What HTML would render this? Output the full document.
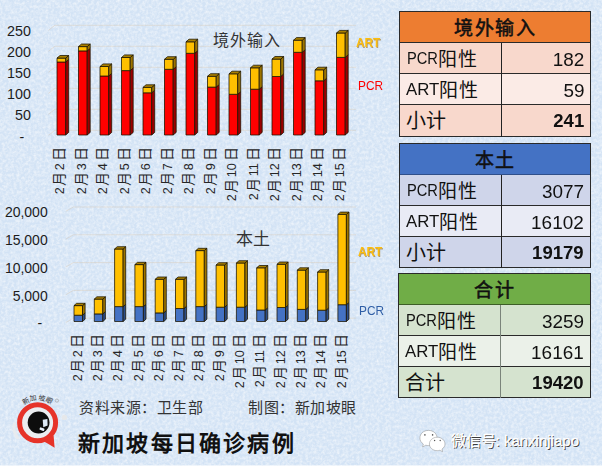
<!DOCTYPE html>
<html lang="zh-CN"><head><meta charset="utf-8">
<style>
html,body{margin:0;padding:0;}
body{width:602px;height:469px;position:relative;overflow:hidden;background:#d3e3f5;font-family:"Liberation Sans",sans-serif;color:#000;}
.abs{position:absolute;}
svg.chart{position:absolute;left:0;top:0;}
.yl{position:absolute;line-height:16px;color:#1c1c1c;white-space:nowrap;}
.xl{position:absolute;width:0;height:0;}
.xl span{position:absolute;right:0;top:0;transform-origin:100% 50%;transform:translate(0,-50%) rotate(-90deg);white-space:nowrap;font-size:14px;line-height:15px;color:#262626;}
.xl b{font-weight:normal;font-size:12.6px;}
.xl b.d1{padding-right:1.1px;}
.xl b.d2{padding-right:2.2px;}
.xl i{font-style:normal;padding-right:1.9px;}
.ttl{position:absolute;font-size:16px;line-height:18px;color:#333;white-space:nowrap;}
.leg{position:absolute;font-size:13px;line-height:14px;white-space:nowrap;transform:scaleX(0.91);transform-origin:0 50%;}

.tb{position:absolute;box-sizing:border-box;border:1px solid #2a2a2a;}
.th{position:absolute;text-align:center;font-size:19px;color:#111;}
.th span{position:relative;top:2px;left:-0.3px;letter-spacing:1.6px;margin-right:-1.6px;-webkit-text-stroke:0.55px #111;}
.hl{position:absolute;left:0;right:0;height:1px;}
.vl{position:absolute;width:1px;}
.tr{position:absolute;left:0;right:0;}
.lab{position:absolute;left:7px;white-space:nowrap;color:#111;}
.lt{font-size:16.3px;display:inline-block;transform:scaleX(0.9);transform-origin:0 50%;margin-right:-3.2px;position:relative;top:0.3px;}
.cj{font-size:19px;position:relative;top:2px;letter-spacing:1px;}
.lt.a{transform:scaleX(1.03);margin-right:-0.6px;left:-1px;}
.cj2{font-size:20px;position:relative;top:1px;left:-1px;}
.val{position:absolute;right:6px;font-size:17.5px;color:#111;}
.val span{display:inline-block;transform:scaleX(1.08);transform-origin:100% 50%;position:relative;top:1.5px;}
.val.b{font-weight:bold;}
.val.b span{top:1px;transform:scaleX(1.06);}

.art{color:#fbbd10;font-weight:bold;text-shadow:0.8px 0.8px 0.6px rgba(140,90,0,0.55);}

.ft{font-size:15px;line-height:20px;color:#333;white-space:nowrap;letter-spacing:0.55px;}
.wm{font-size:15px;line-height:18px;color:#fff;white-space:nowrap;text-shadow:1px 1px 0 #3a3a3a;-webkit-text-stroke:0.3px #fff;}

</style></head><body>
<svg class="abs" width="602" height="469" style="left:0;top:0">
<filter id="nz" x="0" y="0" width="100%" height="100%">
<feTurbulence type="fractalNoise" baseFrequency="0.35" numOctaves="3" seed="7" result="t"/>
<feColorMatrix type="matrix" values="0 0 0 0 1  0 0 0 0 1  0 0 0 0 1  0 0 0 1.5 -0.5"/>
</filter>
<rect width="602" height="469" filter="url(#nz)" opacity="0.7"/>
</svg>
<svg class="chart" width="602" height="469" viewBox="0 0 602 469">
<polyline points="48.4,30.4 54.8,25.3 356,25.3" stroke="#d9c6ad" stroke-width="0.9" fill="none" opacity="0.45"/>
<polyline points="48.4,51.4 54.8,46.3 356,46.3" stroke="#d9c6ad" stroke-width="0.9" fill="none" opacity="0.45"/>
<polyline points="48.4,72.4 54.8,67.3 356,67.3" stroke="#d9c6ad" stroke-width="0.9" fill="none" opacity="0.45"/>
<polyline points="48.4,93.4 54.8,88.3 356,88.3" stroke="#d9c6ad" stroke-width="0.9" fill="none" opacity="0.45"/>
<polyline points="48.4,114.4 54.8,109.3 356,109.3" stroke="#d9c6ad" stroke-width="0.9" fill="none" opacity="0.45"/>
<polyline points="48.4,135.4 54.8,130.3 356,130.3" stroke="#d9c6ad" stroke-width="0.9" fill="none" opacity="0.45"/>
<polyline points="65.8,211.3 73.4,207.0 356,207.0" stroke="#d9c6ad" stroke-width="0.9" fill="none" opacity="0.45"/>
<polyline points="65.8,239.1 73.4,234.8 356,234.8" stroke="#d9c6ad" stroke-width="0.9" fill="none" opacity="0.45"/>
<polyline points="65.8,266.9 73.4,262.6 356,262.6" stroke="#d9c6ad" stroke-width="0.9" fill="none" opacity="0.45"/>
<polyline points="65.8,294.7 73.4,290.4 356,290.4" stroke="#d9c6ad" stroke-width="0.9" fill="none" opacity="0.45"/>
<polyline points="65.8,322.5 73.4,318.2 356,318.2" stroke="#d9c6ad" stroke-width="0.9" fill="none" opacity="0.45"/>
<rect x="57.00" y="62.00" width="8.70" height="73.00" fill="#ff0000" stroke="#1a1400" stroke-width="0.85" stroke-opacity="0.9" stroke-linejoin="round"/>
<polygon points="65.70,62.00 68.70,59.40 68.70,132.40 65.70,135.00" fill="#9a0000" stroke="#1a1400" stroke-width="0.85" stroke-opacity="0.9" stroke-linejoin="round"/>
<rect x="57.00" y="58.10" width="8.70" height="3.90" fill="#ffc000" stroke="#1a1400" stroke-width="0.85" stroke-opacity="0.9" stroke-linejoin="round"/>
<polygon points="65.70,58.10 68.70,55.50 68.70,59.40 65.70,62.00" fill="#9c7400" stroke="#1a1400" stroke-width="0.85" stroke-opacity="0.9" stroke-linejoin="round"/>
<polygon points="57.00,58.10 60.00,55.50 68.70,55.50 65.70,58.10" fill="#aa8000" stroke="#1a1400" stroke-width="0.85" stroke-opacity="0.9" stroke-linejoin="round"/>
<rect x="78.50" y="50.90" width="8.70" height="84.10" fill="#ff0000" stroke="#1a1400" stroke-width="0.85" stroke-opacity="0.9" stroke-linejoin="round"/>
<polygon points="87.20,50.90 90.20,48.30 90.20,132.40 87.20,135.00" fill="#9a0000" stroke="#1a1400" stroke-width="0.85" stroke-opacity="0.9" stroke-linejoin="round"/>
<rect x="78.50" y="46.60" width="8.70" height="4.30" fill="#ffc000" stroke="#1a1400" stroke-width="0.85" stroke-opacity="0.9" stroke-linejoin="round"/>
<polygon points="87.20,46.60 90.20,44.00 90.20,48.30 87.20,50.90" fill="#9c7400" stroke="#1a1400" stroke-width="0.85" stroke-opacity="0.9" stroke-linejoin="round"/>
<polygon points="78.50,46.60 81.50,44.00 90.20,44.00 87.20,46.60" fill="#aa8000" stroke="#1a1400" stroke-width="0.85" stroke-opacity="0.9" stroke-linejoin="round"/>
<rect x="100.00" y="76.00" width="8.70" height="59.00" fill="#ff0000" stroke="#1a1400" stroke-width="0.85" stroke-opacity="0.9" stroke-linejoin="round"/>
<polygon points="108.70,76.00 111.70,73.40 111.70,132.40 108.70,135.00" fill="#9a0000" stroke="#1a1400" stroke-width="0.85" stroke-opacity="0.9" stroke-linejoin="round"/>
<rect x="100.00" y="66.50" width="8.70" height="9.50" fill="#ffc000" stroke="#1a1400" stroke-width="0.85" stroke-opacity="0.9" stroke-linejoin="round"/>
<polygon points="108.70,66.50 111.70,63.90 111.70,73.40 108.70,76.00" fill="#9c7400" stroke="#1a1400" stroke-width="0.85" stroke-opacity="0.9" stroke-linejoin="round"/>
<polygon points="100.00,66.50 103.00,63.90 111.70,63.90 108.70,66.50" fill="#aa8000" stroke="#1a1400" stroke-width="0.85" stroke-opacity="0.9" stroke-linejoin="round"/>
<rect x="121.50" y="70.60" width="8.70" height="64.40" fill="#ff0000" stroke="#1a1400" stroke-width="0.85" stroke-opacity="0.9" stroke-linejoin="round"/>
<polygon points="130.20,70.60 133.20,68.00 133.20,132.40 130.20,135.00" fill="#9a0000" stroke="#1a1400" stroke-width="0.85" stroke-opacity="0.9" stroke-linejoin="round"/>
<rect x="121.50" y="57.50" width="8.70" height="13.10" fill="#ffc000" stroke="#1a1400" stroke-width="0.85" stroke-opacity="0.9" stroke-linejoin="round"/>
<polygon points="130.20,57.50 133.20,54.90 133.20,68.00 130.20,70.60" fill="#9c7400" stroke="#1a1400" stroke-width="0.85" stroke-opacity="0.9" stroke-linejoin="round"/>
<polygon points="121.50,57.50 124.50,54.90 133.20,54.90 130.20,57.50" fill="#aa8000" stroke="#1a1400" stroke-width="0.85" stroke-opacity="0.9" stroke-linejoin="round"/>
<rect x="143.00" y="92.80" width="8.70" height="42.20" fill="#ff0000" stroke="#1a1400" stroke-width="0.85" stroke-opacity="0.9" stroke-linejoin="round"/>
<polygon points="151.70,92.80 154.70,90.20 154.70,132.40 151.70,135.00" fill="#9a0000" stroke="#1a1400" stroke-width="0.85" stroke-opacity="0.9" stroke-linejoin="round"/>
<rect x="143.00" y="87.40" width="8.70" height="5.40" fill="#ffc000" stroke="#1a1400" stroke-width="0.85" stroke-opacity="0.9" stroke-linejoin="round"/>
<polygon points="151.70,87.40 154.70,84.80 154.70,90.20 151.70,92.80" fill="#9c7400" stroke="#1a1400" stroke-width="0.85" stroke-opacity="0.9" stroke-linejoin="round"/>
<polygon points="143.00,87.40 146.00,84.80 154.70,84.80 151.70,87.40" fill="#aa8000" stroke="#1a1400" stroke-width="0.85" stroke-opacity="0.9" stroke-linejoin="round"/>
<rect x="164.50" y="69.30" width="8.70" height="65.70" fill="#ff0000" stroke="#1a1400" stroke-width="0.85" stroke-opacity="0.9" stroke-linejoin="round"/>
<polygon points="173.20,69.30 176.20,66.70 176.20,132.40 173.20,135.00" fill="#9a0000" stroke="#1a1400" stroke-width="0.85" stroke-opacity="0.9" stroke-linejoin="round"/>
<rect x="164.50" y="59.30" width="8.70" height="10.00" fill="#ffc000" stroke="#1a1400" stroke-width="0.85" stroke-opacity="0.9" stroke-linejoin="round"/>
<polygon points="173.20,59.30 176.20,56.70 176.20,66.70 173.20,69.30" fill="#9c7400" stroke="#1a1400" stroke-width="0.85" stroke-opacity="0.9" stroke-linejoin="round"/>
<polygon points="164.50,59.30 167.50,56.70 176.20,56.70 173.20,59.30" fill="#aa8000" stroke="#1a1400" stroke-width="0.85" stroke-opacity="0.9" stroke-linejoin="round"/>
<rect x="186.00" y="53.30" width="8.70" height="81.70" fill="#ff0000" stroke="#1a1400" stroke-width="0.85" stroke-opacity="0.9" stroke-linejoin="round"/>
<polygon points="194.70,53.30 197.70,50.70 197.70,132.40 194.70,135.00" fill="#9a0000" stroke="#1a1400" stroke-width="0.85" stroke-opacity="0.9" stroke-linejoin="round"/>
<rect x="186.00" y="41.80" width="8.70" height="11.50" fill="#ffc000" stroke="#1a1400" stroke-width="0.85" stroke-opacity="0.9" stroke-linejoin="round"/>
<polygon points="194.70,41.80 197.70,39.20 197.70,50.70 194.70,53.30" fill="#9c7400" stroke="#1a1400" stroke-width="0.85" stroke-opacity="0.9" stroke-linejoin="round"/>
<polygon points="186.00,41.80 189.00,39.20 197.70,39.20 194.70,41.80" fill="#aa8000" stroke="#1a1400" stroke-width="0.85" stroke-opacity="0.9" stroke-linejoin="round"/>
<rect x="207.50" y="87.10" width="8.70" height="47.90" fill="#ff0000" stroke="#1a1400" stroke-width="0.85" stroke-opacity="0.9" stroke-linejoin="round"/>
<polygon points="216.20,87.10 219.20,84.50 219.20,132.40 216.20,135.00" fill="#9a0000" stroke="#1a1400" stroke-width="0.85" stroke-opacity="0.9" stroke-linejoin="round"/>
<rect x="207.50" y="76.30" width="8.70" height="10.80" fill="#ffc000" stroke="#1a1400" stroke-width="0.85" stroke-opacity="0.9" stroke-linejoin="round"/>
<polygon points="216.20,76.30 219.20,73.70 219.20,84.50 216.20,87.10" fill="#9c7400" stroke="#1a1400" stroke-width="0.85" stroke-opacity="0.9" stroke-linejoin="round"/>
<polygon points="207.50,76.30 210.50,73.70 219.20,73.70 216.20,76.30" fill="#aa8000" stroke="#1a1400" stroke-width="0.85" stroke-opacity="0.9" stroke-linejoin="round"/>
<rect x="229.00" y="94.30" width="8.70" height="40.70" fill="#ff0000" stroke="#1a1400" stroke-width="0.85" stroke-opacity="0.9" stroke-linejoin="round"/>
<polygon points="237.70,94.30 240.70,91.70 240.70,132.40 237.70,135.00" fill="#9a0000" stroke="#1a1400" stroke-width="0.85" stroke-opacity="0.9" stroke-linejoin="round"/>
<rect x="229.00" y="73.80" width="8.70" height="20.50" fill="#ffc000" stroke="#1a1400" stroke-width="0.85" stroke-opacity="0.9" stroke-linejoin="round"/>
<polygon points="237.70,73.80 240.70,71.20 240.70,91.70 237.70,94.30" fill="#9c7400" stroke="#1a1400" stroke-width="0.85" stroke-opacity="0.9" stroke-linejoin="round"/>
<polygon points="229.00,73.80 232.00,71.20 240.70,71.20 237.70,73.80" fill="#aa8000" stroke="#1a1400" stroke-width="0.85" stroke-opacity="0.9" stroke-linejoin="round"/>
<rect x="250.50" y="89.20" width="8.70" height="45.80" fill="#ff0000" stroke="#1a1400" stroke-width="0.85" stroke-opacity="0.9" stroke-linejoin="round"/>
<polygon points="259.20,89.20 262.20,86.60 262.20,132.40 259.20,135.00" fill="#9a0000" stroke="#1a1400" stroke-width="0.85" stroke-opacity="0.9" stroke-linejoin="round"/>
<rect x="250.50" y="67.80" width="8.70" height="21.40" fill="#ffc000" stroke="#1a1400" stroke-width="0.85" stroke-opacity="0.9" stroke-linejoin="round"/>
<polygon points="259.20,67.80 262.20,65.20 262.20,86.60 259.20,89.20" fill="#9c7400" stroke="#1a1400" stroke-width="0.85" stroke-opacity="0.9" stroke-linejoin="round"/>
<polygon points="250.50,67.80 253.50,65.20 262.20,65.20 259.20,67.80" fill="#aa8000" stroke="#1a1400" stroke-width="0.85" stroke-opacity="0.9" stroke-linejoin="round"/>
<rect x="272.00" y="76.50" width="8.70" height="58.50" fill="#ff0000" stroke="#1a1400" stroke-width="0.85" stroke-opacity="0.9" stroke-linejoin="round"/>
<polygon points="280.70,76.50 283.70,73.90 283.70,132.40 280.70,135.00" fill="#9a0000" stroke="#1a1400" stroke-width="0.85" stroke-opacity="0.9" stroke-linejoin="round"/>
<rect x="272.00" y="59.10" width="8.70" height="17.40" fill="#ffc000" stroke="#1a1400" stroke-width="0.85" stroke-opacity="0.9" stroke-linejoin="round"/>
<polygon points="280.70,59.10 283.70,56.50 283.70,73.90 280.70,76.50" fill="#9c7400" stroke="#1a1400" stroke-width="0.85" stroke-opacity="0.9" stroke-linejoin="round"/>
<polygon points="272.00,59.10 275.00,56.50 283.70,56.50 280.70,59.10" fill="#aa8000" stroke="#1a1400" stroke-width="0.85" stroke-opacity="0.9" stroke-linejoin="round"/>
<rect x="293.50" y="52.30" width="8.70" height="82.70" fill="#ff0000" stroke="#1a1400" stroke-width="0.85" stroke-opacity="0.9" stroke-linejoin="round"/>
<polygon points="302.20,52.30 305.20,49.70 305.20,132.40 302.20,135.00" fill="#9a0000" stroke="#1a1400" stroke-width="0.85" stroke-opacity="0.9" stroke-linejoin="round"/>
<rect x="293.50" y="40.20" width="8.70" height="12.10" fill="#ffc000" stroke="#1a1400" stroke-width="0.85" stroke-opacity="0.9" stroke-linejoin="round"/>
<polygon points="302.20,40.20 305.20,37.60 305.20,49.70 302.20,52.30" fill="#9c7400" stroke="#1a1400" stroke-width="0.85" stroke-opacity="0.9" stroke-linejoin="round"/>
<polygon points="293.50,40.20 296.50,37.60 305.20,37.60 302.20,40.20" fill="#aa8000" stroke="#1a1400" stroke-width="0.85" stroke-opacity="0.9" stroke-linejoin="round"/>
<rect x="315.00" y="80.80" width="8.70" height="54.20" fill="#ff0000" stroke="#1a1400" stroke-width="0.85" stroke-opacity="0.9" stroke-linejoin="round"/>
<polygon points="323.70,80.80 326.70,78.20 326.70,132.40 323.70,135.00" fill="#9a0000" stroke="#1a1400" stroke-width="0.85" stroke-opacity="0.9" stroke-linejoin="round"/>
<rect x="315.00" y="69.80" width="8.70" height="11.00" fill="#ffc000" stroke="#1a1400" stroke-width="0.85" stroke-opacity="0.9" stroke-linejoin="round"/>
<polygon points="323.70,69.80 326.70,67.20 326.70,78.20 323.70,80.80" fill="#9c7400" stroke="#1a1400" stroke-width="0.85" stroke-opacity="0.9" stroke-linejoin="round"/>
<polygon points="315.00,69.80 318.00,67.20 326.70,67.20 323.70,69.80" fill="#aa8000" stroke="#1a1400" stroke-width="0.85" stroke-opacity="0.9" stroke-linejoin="round"/>
<rect x="336.50" y="57.40" width="8.70" height="77.60" fill="#ff0000" stroke="#1a1400" stroke-width="0.85" stroke-opacity="0.9" stroke-linejoin="round"/>
<polygon points="345.20,57.40 348.20,54.80 348.20,132.40 345.20,135.00" fill="#9a0000" stroke="#1a1400" stroke-width="0.85" stroke-opacity="0.9" stroke-linejoin="round"/>
<rect x="336.50" y="33.00" width="8.70" height="24.40" fill="#ffc000" stroke="#1a1400" stroke-width="0.85" stroke-opacity="0.9" stroke-linejoin="round"/>
<polygon points="345.20,33.00 348.20,30.40 348.20,54.80 345.20,57.40" fill="#9c7400" stroke="#1a1400" stroke-width="0.85" stroke-opacity="0.9" stroke-linejoin="round"/>
<polygon points="336.50,33.00 339.50,30.40 348.20,30.40 345.20,33.00" fill="#aa8000" stroke="#1a1400" stroke-width="0.85" stroke-opacity="0.9" stroke-linejoin="round"/>
<rect x="74.00" y="315.20" width="8.50" height="6.30" fill="#4472c4" stroke="#1a1400" stroke-width="0.85" stroke-opacity="0.9" stroke-linejoin="round"/>
<polygon points="82.50,315.20 85.10,312.90 85.10,319.20 82.50,321.50" fill="#2c4d86" stroke="#1a1400" stroke-width="0.85" stroke-opacity="0.9" stroke-linejoin="round"/>
<rect x="74.00" y="305.60" width="8.50" height="9.60" fill="#ffc000" stroke="#1a1400" stroke-width="0.85" stroke-opacity="0.9" stroke-linejoin="round"/>
<polygon points="82.50,305.60 85.10,303.30 85.10,312.90 82.50,315.20" fill="#9c7400" stroke="#1a1400" stroke-width="0.85" stroke-opacity="0.9" stroke-linejoin="round"/>
<polygon points="74.00,305.60 76.60,303.30 85.10,303.30 82.50,305.60" fill="#aa8000" stroke="#1a1400" stroke-width="0.85" stroke-opacity="0.9" stroke-linejoin="round"/>
<rect x="94.30" y="313.90" width="8.50" height="7.60" fill="#4472c4" stroke="#1a1400" stroke-width="0.85" stroke-opacity="0.9" stroke-linejoin="round"/>
<polygon points="102.80,313.90 105.40,311.60 105.40,319.20 102.80,321.50" fill="#2c4d86" stroke="#1a1400" stroke-width="0.85" stroke-opacity="0.9" stroke-linejoin="round"/>
<rect x="94.30" y="299.10" width="8.50" height="14.80" fill="#ffc000" stroke="#1a1400" stroke-width="0.85" stroke-opacity="0.9" stroke-linejoin="round"/>
<polygon points="102.80,299.10 105.40,296.80 105.40,311.60 102.80,313.90" fill="#9c7400" stroke="#1a1400" stroke-width="0.85" stroke-opacity="0.9" stroke-linejoin="round"/>
<polygon points="94.30,299.10 96.90,296.80 105.40,296.80 102.80,299.10" fill="#aa8000" stroke="#1a1400" stroke-width="0.85" stroke-opacity="0.9" stroke-linejoin="round"/>
<rect x="114.60" y="306.60" width="8.50" height="14.90" fill="#4472c4" stroke="#1a1400" stroke-width="0.85" stroke-opacity="0.9" stroke-linejoin="round"/>
<polygon points="123.10,306.60 125.70,304.30 125.70,319.20 123.10,321.50" fill="#2c4d86" stroke="#1a1400" stroke-width="0.85" stroke-opacity="0.9" stroke-linejoin="round"/>
<rect x="114.60" y="249.00" width="8.50" height="57.60" fill="#ffc000" stroke="#1a1400" stroke-width="0.85" stroke-opacity="0.9" stroke-linejoin="round"/>
<polygon points="123.10,249.00 125.70,246.70 125.70,304.30 123.10,306.60" fill="#9c7400" stroke="#1a1400" stroke-width="0.85" stroke-opacity="0.9" stroke-linejoin="round"/>
<polygon points="114.60,249.00 117.20,246.70 125.70,246.70 123.10,249.00" fill="#aa8000" stroke="#1a1400" stroke-width="0.85" stroke-opacity="0.9" stroke-linejoin="round"/>
<rect x="134.90" y="306.60" width="8.50" height="14.90" fill="#4472c4" stroke="#1a1400" stroke-width="0.85" stroke-opacity="0.9" stroke-linejoin="round"/>
<polygon points="143.40,306.60 146.00,304.30 146.00,319.20 143.40,321.50" fill="#2c4d86" stroke="#1a1400" stroke-width="0.85" stroke-opacity="0.9" stroke-linejoin="round"/>
<rect x="134.90" y="264.60" width="8.50" height="42.00" fill="#ffc000" stroke="#1a1400" stroke-width="0.85" stroke-opacity="0.9" stroke-linejoin="round"/>
<polygon points="143.40,264.60 146.00,262.30 146.00,304.30 143.40,306.60" fill="#9c7400" stroke="#1a1400" stroke-width="0.85" stroke-opacity="0.9" stroke-linejoin="round"/>
<polygon points="134.90,264.60 137.50,262.30 146.00,262.30 143.40,264.60" fill="#aa8000" stroke="#1a1400" stroke-width="0.85" stroke-opacity="0.9" stroke-linejoin="round"/>
<rect x="155.20" y="312.90" width="8.50" height="8.60" fill="#4472c4" stroke="#1a1400" stroke-width="0.85" stroke-opacity="0.9" stroke-linejoin="round"/>
<polygon points="163.70,312.90 166.30,310.60 166.30,319.20 163.70,321.50" fill="#2c4d86" stroke="#1a1400" stroke-width="0.85" stroke-opacity="0.9" stroke-linejoin="round"/>
<rect x="155.20" y="279.30" width="8.50" height="33.60" fill="#ffc000" stroke="#1a1400" stroke-width="0.85" stroke-opacity="0.9" stroke-linejoin="round"/>
<polygon points="163.70,279.30 166.30,277.00 166.30,310.60 163.70,312.90" fill="#9c7400" stroke="#1a1400" stroke-width="0.85" stroke-opacity="0.9" stroke-linejoin="round"/>
<polygon points="155.20,279.30 157.80,277.00 166.30,277.00 163.70,279.30" fill="#aa8000" stroke="#1a1400" stroke-width="0.85" stroke-opacity="0.9" stroke-linejoin="round"/>
<rect x="175.50" y="308.50" width="8.50" height="13.00" fill="#4472c4" stroke="#1a1400" stroke-width="0.85" stroke-opacity="0.9" stroke-linejoin="round"/>
<polygon points="184.00,308.50 186.60,306.20 186.60,319.20 184.00,321.50" fill="#2c4d86" stroke="#1a1400" stroke-width="0.85" stroke-opacity="0.9" stroke-linejoin="round"/>
<rect x="175.50" y="279.30" width="8.50" height="29.20" fill="#ffc000" stroke="#1a1400" stroke-width="0.85" stroke-opacity="0.9" stroke-linejoin="round"/>
<polygon points="184.00,279.30 186.60,277.00 186.60,306.20 184.00,308.50" fill="#9c7400" stroke="#1a1400" stroke-width="0.85" stroke-opacity="0.9" stroke-linejoin="round"/>
<polygon points="175.50,279.30 178.10,277.00 186.60,277.00 184.00,279.30" fill="#aa8000" stroke="#1a1400" stroke-width="0.85" stroke-opacity="0.9" stroke-linejoin="round"/>
<rect x="195.80" y="306.60" width="8.50" height="14.90" fill="#4472c4" stroke="#1a1400" stroke-width="0.85" stroke-opacity="0.9" stroke-linejoin="round"/>
<polygon points="204.30,306.60 206.90,304.30 206.90,319.20 204.30,321.50" fill="#2c4d86" stroke="#1a1400" stroke-width="0.85" stroke-opacity="0.9" stroke-linejoin="round"/>
<rect x="195.80" y="250.60" width="8.50" height="56.00" fill="#ffc000" stroke="#1a1400" stroke-width="0.85" stroke-opacity="0.9" stroke-linejoin="round"/>
<polygon points="204.30,250.60 206.90,248.30 206.90,304.30 204.30,306.60" fill="#9c7400" stroke="#1a1400" stroke-width="0.85" stroke-opacity="0.9" stroke-linejoin="round"/>
<polygon points="195.80,250.60 198.40,248.30 206.90,248.30 204.30,250.60" fill="#aa8000" stroke="#1a1400" stroke-width="0.85" stroke-opacity="0.9" stroke-linejoin="round"/>
<rect x="216.10" y="307.20" width="8.50" height="14.30" fill="#4472c4" stroke="#1a1400" stroke-width="0.85" stroke-opacity="0.9" stroke-linejoin="round"/>
<polygon points="224.60,307.20 227.20,304.90 227.20,319.20 224.60,321.50" fill="#2c4d86" stroke="#1a1400" stroke-width="0.85" stroke-opacity="0.9" stroke-linejoin="round"/>
<rect x="216.10" y="265.00" width="8.50" height="42.20" fill="#ffc000" stroke="#1a1400" stroke-width="0.85" stroke-opacity="0.9" stroke-linejoin="round"/>
<polygon points="224.60,265.00 227.20,262.70 227.20,304.90 224.60,307.20" fill="#9c7400" stroke="#1a1400" stroke-width="0.85" stroke-opacity="0.9" stroke-linejoin="round"/>
<polygon points="216.10,265.00 218.70,262.70 227.20,262.70 224.60,265.00" fill="#aa8000" stroke="#1a1400" stroke-width="0.85" stroke-opacity="0.9" stroke-linejoin="round"/>
<rect x="236.40" y="307.20" width="8.50" height="14.30" fill="#4472c4" stroke="#1a1400" stroke-width="0.85" stroke-opacity="0.9" stroke-linejoin="round"/>
<polygon points="244.90,307.20 247.50,304.90 247.50,319.20 244.90,321.50" fill="#2c4d86" stroke="#1a1400" stroke-width="0.85" stroke-opacity="0.9" stroke-linejoin="round"/>
<rect x="236.40" y="263.00" width="8.50" height="44.20" fill="#ffc000" stroke="#1a1400" stroke-width="0.85" stroke-opacity="0.9" stroke-linejoin="round"/>
<polygon points="244.90,263.00 247.50,260.70 247.50,304.90 244.90,307.20" fill="#9c7400" stroke="#1a1400" stroke-width="0.85" stroke-opacity="0.9" stroke-linejoin="round"/>
<polygon points="236.40,263.00 239.00,260.70 247.50,260.70 244.90,263.00" fill="#aa8000" stroke="#1a1400" stroke-width="0.85" stroke-opacity="0.9" stroke-linejoin="round"/>
<rect x="256.70" y="310.00" width="8.50" height="11.50" fill="#4472c4" stroke="#1a1400" stroke-width="0.85" stroke-opacity="0.9" stroke-linejoin="round"/>
<polygon points="265.20,310.00 267.80,307.70 267.80,319.20 265.20,321.50" fill="#2c4d86" stroke="#1a1400" stroke-width="0.85" stroke-opacity="0.9" stroke-linejoin="round"/>
<rect x="256.70" y="267.80" width="8.50" height="42.20" fill="#ffc000" stroke="#1a1400" stroke-width="0.85" stroke-opacity="0.9" stroke-linejoin="round"/>
<polygon points="265.20,267.80 267.80,265.50 267.80,307.70 265.20,310.00" fill="#9c7400" stroke="#1a1400" stroke-width="0.85" stroke-opacity="0.9" stroke-linejoin="round"/>
<polygon points="256.70,267.80 259.30,265.50 267.80,265.50 265.20,267.80" fill="#aa8000" stroke="#1a1400" stroke-width="0.85" stroke-opacity="0.9" stroke-linejoin="round"/>
<rect x="277.00" y="307.50" width="8.50" height="14.00" fill="#4472c4" stroke="#1a1400" stroke-width="0.85" stroke-opacity="0.9" stroke-linejoin="round"/>
<polygon points="285.50,307.50 288.10,305.20 288.10,319.20 285.50,321.50" fill="#2c4d86" stroke="#1a1400" stroke-width="0.85" stroke-opacity="0.9" stroke-linejoin="round"/>
<rect x="277.00" y="264.30" width="8.50" height="43.20" fill="#ffc000" stroke="#1a1400" stroke-width="0.85" stroke-opacity="0.9" stroke-linejoin="round"/>
<polygon points="285.50,264.30 288.10,262.00 288.10,305.20 285.50,307.50" fill="#9c7400" stroke="#1a1400" stroke-width="0.85" stroke-opacity="0.9" stroke-linejoin="round"/>
<polygon points="277.00,264.30 279.60,262.00 288.10,262.00 285.50,264.30" fill="#aa8000" stroke="#1a1400" stroke-width="0.85" stroke-opacity="0.9" stroke-linejoin="round"/>
<rect x="297.30" y="309.40" width="8.50" height="12.10" fill="#4472c4" stroke="#1a1400" stroke-width="0.85" stroke-opacity="0.9" stroke-linejoin="round"/>
<polygon points="305.80,309.40 308.40,307.10 308.40,319.20 305.80,321.50" fill="#2c4d86" stroke="#1a1400" stroke-width="0.85" stroke-opacity="0.9" stroke-linejoin="round"/>
<rect x="297.30" y="270.10" width="8.50" height="39.30" fill="#ffc000" stroke="#1a1400" stroke-width="0.85" stroke-opacity="0.9" stroke-linejoin="round"/>
<polygon points="305.80,270.10 308.40,267.80 308.40,307.10 305.80,309.40" fill="#9c7400" stroke="#1a1400" stroke-width="0.85" stroke-opacity="0.9" stroke-linejoin="round"/>
<polygon points="297.30,270.10 299.90,267.80 308.40,267.80 305.80,270.10" fill="#aa8000" stroke="#1a1400" stroke-width="0.85" stroke-opacity="0.9" stroke-linejoin="round"/>
<rect x="317.60" y="310.20" width="8.50" height="11.30" fill="#4472c4" stroke="#1a1400" stroke-width="0.85" stroke-opacity="0.9" stroke-linejoin="round"/>
<polygon points="326.10,310.20 328.70,307.90 328.70,319.20 326.10,321.50" fill="#2c4d86" stroke="#1a1400" stroke-width="0.85" stroke-opacity="0.9" stroke-linejoin="round"/>
<rect x="317.60" y="272.00" width="8.50" height="38.20" fill="#ffc000" stroke="#1a1400" stroke-width="0.85" stroke-opacity="0.9" stroke-linejoin="round"/>
<polygon points="326.10,272.00 328.70,269.70 328.70,307.90 326.10,310.20" fill="#9c7400" stroke="#1a1400" stroke-width="0.85" stroke-opacity="0.9" stroke-linejoin="round"/>
<polygon points="317.60,272.00 320.20,269.70 328.70,269.70 326.10,272.00" fill="#aa8000" stroke="#1a1400" stroke-width="0.85" stroke-opacity="0.9" stroke-linejoin="round"/>
<rect x="337.90" y="304.70" width="8.50" height="16.80" fill="#4472c4" stroke="#1a1400" stroke-width="0.85" stroke-opacity="0.9" stroke-linejoin="round"/>
<polygon points="346.40,304.70 349.00,302.40 349.00,319.20 346.40,321.50" fill="#2c4d86" stroke="#1a1400" stroke-width="0.85" stroke-opacity="0.9" stroke-linejoin="round"/>
<rect x="337.90" y="214.40" width="8.50" height="90.30" fill="#ffc000" stroke="#1a1400" stroke-width="0.85" stroke-opacity="0.9" stroke-linejoin="round"/>
<polygon points="346.40,214.40 349.00,212.10 349.00,302.40 346.40,304.70" fill="#9c7400" stroke="#1a1400" stroke-width="0.85" stroke-opacity="0.9" stroke-linejoin="round"/>
<polygon points="337.90,214.40 340.50,212.10 349.00,212.10 346.40,214.40" fill="#aa8000" stroke="#1a1400" stroke-width="0.85" stroke-opacity="0.9" stroke-linejoin="round"/>
</svg>
<div class="yl" style="right:571.1px;top:23.1px;font-size:14.3px">250</div>
<div class="yl" style="right:571.1px;top:44.2px;font-size:14.3px">200</div>
<div class="yl" style="right:571.1px;top:65.2px;font-size:14.3px">150</div>
<div class="yl" style="right:571.1px;top:86.2px;font-size:14.3px">100</div>
<div class="yl" style="right:571.1px;top:107.3px;font-size:14.3px">50</div>
<div class="yl" style="left:19.5px;top:129.0px;font-size:14.3px">-</div>
<div class="yl" style="right:554.3px;top:204.4px;font-size:14px">20,000</div>
<div class="yl" style="right:554.3px;top:232.2px;font-size:14px">15,000</div>
<div class="yl" style="right:554.3px;top:259.9px;font-size:14px">10,000</div>
<div class="yl" style="right:554.3px;top:287.6px;font-size:14px">5,000</div>
<div class="yl" style="left:37.5px;top:315.1px;font-size:14px">-</div>
<div class="xl" style="left:60.5px;top:147.2px"><span><b class="d1">2</b><i>月</i><b class="d2">2</b>日</span></div>
<div class="xl" style="left:82.0px;top:147.2px"><span><b class="d1">2</b><i>月</i><b class="d2">3</b>日</span></div>
<div class="xl" style="left:103.5px;top:147.2px"><span><b class="d1">2</b><i>月</i><b class="d2">4</b>日</span></div>
<div class="xl" style="left:125.0px;top:147.2px"><span><b class="d1">2</b><i>月</i><b class="d2">5</b>日</span></div>
<div class="xl" style="left:146.5px;top:147.2px"><span><b class="d1">2</b><i>月</i><b class="d2">6</b>日</span></div>
<div class="xl" style="left:168.0px;top:147.2px"><span><b class="d1">2</b><i>月</i><b class="d2">7</b>日</span></div>
<div class="xl" style="left:189.5px;top:147.2px"><span><b class="d1">2</b><i>月</i><b class="d2">8</b>日</span></div>
<div class="xl" style="left:211.0px;top:147.2px"><span><b class="d1">2</b><i>月</i><b class="d2">9</b>日</span></div>
<div class="xl" style="left:232.5px;top:147.2px"><span><b class="d1">2</b><i>月</i><b class="d2">10</b>日</span></div>
<div class="xl" style="left:254.0px;top:147.2px"><span><b class="d1">2</b><i>月</i><b class="d2">11</b>日</span></div>
<div class="xl" style="left:275.5px;top:147.2px"><span><b class="d1">2</b><i>月</i><b class="d2">12</b>日</span></div>
<div class="xl" style="left:297.0px;top:147.2px"><span><b class="d1">2</b><i>月</i><b class="d2">13</b>日</span></div>
<div class="xl" style="left:318.5px;top:147.2px"><span><b class="d1">2</b><i>月</i><b class="d2">14</b>日</span></div>
<div class="xl" style="left:340.0px;top:147.2px"><span><b class="d1">2</b><i>月</i><b class="d2">15</b>日</span></div>
<div class="xl" style="left:77.9px;top:334px"><span><b class="d1">2</b><i>月</i><b class="d2">2</b>日</span></div>
<div class="xl" style="left:98.2px;top:334px"><span><b class="d1">2</b><i>月</i><b class="d2">3</b>日</span></div>
<div class="xl" style="left:118.5px;top:334px"><span><b class="d1">2</b><i>月</i><b class="d2">4</b>日</span></div>
<div class="xl" style="left:138.8px;top:334px"><span><b class="d1">2</b><i>月</i><b class="d2">5</b>日</span></div>
<div class="xl" style="left:159.1px;top:334px"><span><b class="d1">2</b><i>月</i><b class="d2">6</b>日</span></div>
<div class="xl" style="left:179.4px;top:334px"><span><b class="d1">2</b><i>月</i><b class="d2">7</b>日</span></div>
<div class="xl" style="left:199.7px;top:334px"><span><b class="d1">2</b><i>月</i><b class="d2">8</b>日</span></div>
<div class="xl" style="left:220.0px;top:334px"><span><b class="d1">2</b><i>月</i><b class="d2">9</b>日</span></div>
<div class="xl" style="left:240.3px;top:334px"><span><b class="d1">2</b><i>月</i><b class="d2">10</b>日</span></div>
<div class="xl" style="left:260.6px;top:334px"><span><b class="d1">2</b><i>月</i><b class="d2">11</b>日</span></div>
<div class="xl" style="left:280.9px;top:334px"><span><b class="d1">2</b><i>月</i><b class="d2">12</b>日</span></div>
<div class="xl" style="left:301.2px;top:334px"><span><b class="d1">2</b><i>月</i><b class="d2">13</b>日</span></div>
<div class="xl" style="left:321.5px;top:334px"><span><b class="d1">2</b><i>月</i><b class="d2">14</b>日</span></div>
<div class="xl" style="left:341.8px;top:334px"><span><b class="d1">2</b><i>月</i><b class="d2">15</b>日</span></div>
<div class="ttl" style="left:213px;top:32px;letter-spacing:0.9px;">境外输入</div>
<div class="ttl" style="left:236px;top:230.5px;font-size:17px;">本土</div>
<div class="leg art" style="left:356px;top:36px;">ART</div>
<div class="leg" style="left:358px;top:79px;color:#ff0000;">PCR</div>
<div class="leg art" style="left:357.5px;top:244.7px;">ART</div>
<div class="leg" style="left:359px;top:304.3px;color:#2f5ea6;">PCR</div>
<div class="tb" style="left:399px;top:11px;width:192px;height:126px;border-color:#2a2a2a;">
<div class="th" style="left:0;top:0;width:190px;height:30px;background:#ed7d31;line-height:30px;"><span>境外输入</span></div>
<div class="hl" style="top:30px;background:#2a2a2a;"></div>
<div class="tr" style="top:31px;height:30px;background:#f8d8cc;"></div>
<div class="lab" style="top:31px;height:30px;line-height:30px;"><span class="lt">PCR</span><span class="cj">阳性</span></div>
<div class="val" style="top:31px;height:30px;line-height:30px;"><span>182</span></div>
<div class="hl" style="top:61px;background:#2a2a2a;"></div>
<div class="tr" style="top:62px;height:30px;background:#fbebe6;"></div>
<div class="lab" style="top:62px;height:30px;line-height:30px;"><span class="lt a">ART</span><span class="cj">阳性</span></div>
<div class="val" style="top:62px;height:30px;line-height:30px;"><span>59</span></div>
<div class="hl" style="top:92px;background:#2a2a2a;"></div>
<div class="tr" style="top:93px;height:31px;background:#f8d8cc;"></div>
<div class="lab" style="top:93px;height:31px;line-height:31px;"><span class="cj2">小计</span></div>
<div class="val b" style="top:93px;height:31px;line-height:31px;"><span>241</span></div>
<div class="vl" style="left:101px;top:31px;height:94px;background:#222;"></div>
</div>
<div class="tb" style="left:399px;top:143px;width:192px;height:125px;border-color:#2a2a2a;">
<div class="th" style="left:0;top:0;width:190px;height:30px;background:#4472c4;line-height:30px;"><span>本土</span></div>
<div class="hl" style="top:30px;background:#2f4f8a;"></div>
<div class="tr" style="top:31px;height:30px;background:#cfd5ea;"></div>
<div class="lab" style="top:31px;height:30px;line-height:30px;"><span class="lt">PCR</span><span class="cj">阳性</span></div>
<div class="val" style="top:31px;height:30px;line-height:30px;"><span>3077</span></div>
<div class="hl" style="top:61px;background:#2a2a2a;"></div>
<div class="tr" style="top:62px;height:30px;background:#e9ebf5;"></div>
<div class="lab" style="top:62px;height:30px;line-height:30px;"><span class="lt a">ART</span><span class="cj">阳性</span></div>
<div class="val" style="top:62px;height:30px;line-height:30px;"><span>16102</span></div>
<div class="hl" style="top:92px;background:#2a2a2a;"></div>
<div class="tr" style="top:93px;height:30px;background:#cfd5ea;"></div>
<div class="lab" style="top:93px;height:30px;line-height:30px;"><span class="cj2">小计</span></div>
<div class="val b" style="top:93px;height:30px;line-height:30px;"><span>19179</span></div>
<div class="vl" style="left:101px;top:31px;height:93px;background:#222;"></div>
</div>
<div class="tb" style="left:398px;top:273px;width:193px;height:125px;border-color:#2a2a2a;">
<div class="th" style="left:0;top:0;width:191px;height:30px;background:#70ad47;line-height:30px;"><span>合计</span></div>
<div class="hl" style="top:30px;background:#3d5f27;"></div>
<div class="tr" style="top:31px;height:30px;background:#d5e3cf;"></div>
<div class="lab" style="top:31px;height:30px;line-height:30px;"><span class="lt">PCR</span><span class="cj">阳性</span></div>
<div class="val" style="top:31px;height:30px;line-height:30px;"><span>3259</span></div>
<div class="hl" style="top:61px;background:#2a2a2a;"></div>
<div class="tr" style="top:62px;height:30px;background:#ebf1e9;"></div>
<div class="lab" style="top:62px;height:30px;line-height:30px;"><span class="lt a">ART</span><span class="cj">阳性</span></div>
<div class="val" style="top:62px;height:30px;line-height:30px;"><span>16161</span></div>
<div class="hl" style="top:92px;background:#2a2a2a;"></div>
<div class="tr" style="top:93px;height:30px;background:#d5e3cf;"></div>
<div class="lab" style="top:93px;height:30px;line-height:30px;"><span class="cj2">合计</span></div>
<div class="val b" style="top:93px;height:30px;line-height:30px;"><span>19420</span></div>
<div class="vl" style="left:101px;top:31px;height:93px;background:#7a847a;"></div>
</div>

<div class="abs ft" style="left:79px;top:397.5px;">资料来源：卫生部</div>
<div class="abs ft" style="left:248px;top:397.5px;">制图：新加坡眼</div>
<div class="abs" style="left:78px;top:428.5px;font-size:22px;line-height:30px;font-weight:bold;color:#111;white-space:nowrap;letter-spacing:2.2px;">新加坡每日确诊病例</div>
<div class="abs wm" style="left:450.6px;top:432px;">微信号: kanxinjiapo</div>
<svg class="abs" style="left:0;top:385px" width="80" height="70" viewBox="0 385 80 70">
  <defs><path id="arcp" d="M20.29,408.17 A22.6,22.6 0 0 1 54.91,408.17"/></defs>
  <path d="M14.5,424 Q12.5,431 17.5,437.5" fill="none" stroke="#e9ebee" stroke-width="3.2" stroke-linecap="round" opacity="0.9"/>
  <circle cx="64.4" cy="417.4" r="2.7" fill="#e6e8ea"/>
  <circle cx="37.6" cy="422.7" r="15.5" fill="#ebedf0"/>
  <circle cx="37.6" cy="422.7" r="18" fill="none" stroke="#e63329" stroke-width="5"/>
  <path d="M43.5,441.2 L53.6,435.6 L54.6,447.8 Q49,444 43.5,441.2 Z" fill="#e63329"/>
  <circle cx="38.6" cy="422.5" r="10.9" fill="#0d0d0d"/>
  <path d="M42.7,419.8 L47.4,419 L47.6,425.4 L43.3,427.2 Z" fill="#dde8f5"/>
  <rect x="39.6" y="427.9" width="4.8" height="2.6" rx="0.8" fill="#e6eef8" transform="rotate(22 42 429.2)"/>
  <text font-size="7" fill="#333" letter-spacing="0.4"><textPath href="#arcp" startOffset="50%" text-anchor="middle">新加坡眼</textPath></text>
  <circle cx="56.9" cy="400.6" r="1.6" fill="none" stroke="#999" stroke-width="0.6"/>
</svg>
<svg class="abs" style="left:415px;top:425px" width="36" height="30" viewBox="415 425 36 30">
  <path d="M428.5,430.4 C423.5,430.4 419.9,433.8 419.9,438 C419.9,440.6 421.2,442.6 423.3,444 L422.6,447 L425.8,445.2 C426.8,445.5 427.6,445.6 428.5,445.6 C433.5,445.6 437.1,442.3 437.1,438 C437.1,433.8 433.5,430.4 428.5,430.4 Z" fill="#fff" stroke="#8a8a8a" stroke-width="0.5"/>
  <path d="M437.2,437.2 C432.9,437.2 429.4,440.3 429.4,444 C429.4,447.7 432.9,450.7 437.2,450.7 C438.1,450.7 439,450.6 439.8,450.3 L442.6,451.7 L442,449.1 C443.8,447.9 445,446.1 445,444 C445,440.3 441.5,437.2 437.2,437.2 Z" fill="#fff" stroke="#8a8a8a" stroke-width="0.5"/>
  <circle cx="424.9" cy="434.9" r="0.8" fill="#555"/><circle cx="432.6" cy="434.9" r="0.8" fill="#555"/>
  <circle cx="434.6" cy="440.5" r="0.7" fill="#555"/><circle cx="440.2" cy="440.5" r="0.7" fill="#555"/>
</svg>

<div class="abs" style="left:0;top:465px;width:602px;height:4px;background:linear-gradient(to bottom,rgba(255,255,255,0.55) 0,rgba(255,255,255,0.55) 1px,#fff 1px);"></div>
</body></html>
